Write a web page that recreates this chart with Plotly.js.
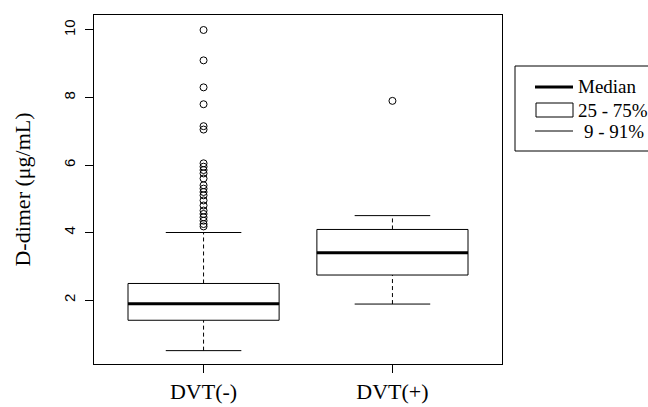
<!DOCTYPE html>
<html>
<head>
<meta charset="utf-8">
<script src="https://cdn.plot.ly/plotly-3.0.1.min.js"></script>
<style>html,body{margin:0;padding:0;background:#fff;}#chart{width:648px;height:407px;}</style>
</head>
<body>
<div id="chart"></div>
<script>
// ---- data ----
var categories = ["DVT(-)", "DVT(+)"];
var positions = [1, 2];
var q1 = [1.40, 2.74];
var medians = [1.89, 3.40];
var q3 = [2.49, 4.09];
var whiskerLow = [0.50, 1.88];
var whiskerHigh = [4.00, 4.50];
var outliersNeg = [4.18, 4.25, 4.35, 4.45, 4.55, 4.65, 4.80, 4.95, 5.10, 5.20, 5.30, 5.40, 5.60, 5.75, 5.85, 5.95, 6.05, 7.05, 7.15, 7.80, 8.30, 9.10, 10.00];
var outliersPos = [7.90];
var yTicks = [2, 4, 6, 8, 10];
var legendLabels = ["Median", "25 - 75%", "9 - 91%"];

var halfBox = 0.4, halfCap = 0.2;
var traces = [];
var serif = "Liberation Serif, Times New Roman, serif";
var sans = "Liberation Sans, Arial, sans-serif";

for (var i = 0; i < categories.length; i++) {
  var x = positions[i];
  // dashed whiskers
  traces.push({type: "scatter", mode: "lines", x: [x, x], y: [whiskerLow[i], q1[i]],
    line: {color: "#000", width: 1, dash: "4px,3px"}, hoverinfo: "skip", showlegend: false});
  traces.push({type: "scatter", mode: "lines", x: [x, x], y: [q3[i], whiskerHigh[i]],
    line: {color: "#000", width: 1, dash: "4px,3px"}, hoverinfo: "skip", showlegend: false});
  // caps
  traces.push({type: "scatter", mode: "lines", x: [x - halfCap, x + halfCap], y: [whiskerLow[i], whiskerLow[i]],
    line: {color: "#000", width: 1}, hoverinfo: "skip", showlegend: false});
  traces.push({type: "scatter", mode: "lines", x: [x - halfCap, x + halfCap], y: [whiskerHigh[i], whiskerHigh[i]],
    line: {color: "#000", width: 1}, hoverinfo: "skip", showlegend: false});
  // box
  traces.push({type: "box", x: [x], q1: [q1[i]], median: [medians[i]], q3: [q3[i]],
    lowerfence: [q1[i]], upperfence: [q3[i]], width: 2 * halfBox,
    line: {color: "#000", width: 1}, fillcolor: "#fff", boxpoints: false,
    whiskerwidth: 0, hoverinfo: "skip", showlegend: false});
  // thick median
  traces.push({type: "scatter", mode: "lines", x: [x - halfBox, x + halfBox], y: [medians[i], medians[i]],
    line: {color: "#000", width: 3}, hoverinfo: "skip", showlegend: false});
}
traces.push({type: "scatter", mode: "markers", x: outliersNeg.map(function(){return positions[0];}), y: outliersNeg,
  marker: {symbol: "circle-open", size: 7, color: "#000", line: {width: 1, color: "#000"}}, hoverinfo: "skip", showlegend: false});
traces.push({type: "scatter", mode: "markers", x: outliersPos.map(function(){return positions[1];}), y: outliersPos,
  marker: {symbol: "circle-open", size: 7, color: "#000", line: {width: 1, color: "#000"}}, hoverinfo: "skip", showlegend: false});

var layout = {
  width: 648, height: 407,
  margin: {l: 94, r: 146, t: 15, b: 43},
  paper_bgcolor: "#fff", plot_bgcolor: "#fff",
  showlegend: false,
  xaxis: {range: [0.42, 2.58], tickvals: positions, ticktext: categories,
    showgrid: false, zeroline: false, showline: true, mirror: true, linecolor: "#000", linewidth: 1,
    ticks: "outside", ticklen: 8, tickcolor: "#000",
    tickfont: {family: serif, size: 22, color: "#000"}},
  yaxis: {range: [0.104, 10.444], tickvals: yTicks, ticktext: yTicks.map(String), tickangle: -90,
    showgrid: false, zeroline: false, showline: true, mirror: true, linecolor: "#000", linewidth: 1,
    ticks: "outside", ticklen: 8, tickcolor: "#000", ticklabelstandoff: 4,
    tickfont: {family: sans, size: 15, color: "#000"},
    title: {text: "D-dimer (μg/mL)", font: {family: serif, size: 22, color: "#000"}, standoff: 24}},
  shapes: [
    {type: "path", xref: "paper", yref: "paper",
      path: "M " + ((700 - 94) / 408) + "," + ((364 - 66) / 349) +
            " L " + ((515 - 94) / 408) + "," + ((364 - 66) / 349) +
            " L " + ((515 - 94) / 408) + "," + ((364 - 151) / 349) +
            " L " + ((700 - 94) / 408) + "," + ((364 - 151) / 349),
      line: {color: "#000", width: 1}},
    {type: "line", xref: "paper", yref: "paper", x0: (535 - 94) / 408, x1: (573 - 94) / 408,
      y0: (364 - 87) / 349, y1: (364 - 87) / 349, line: {color: "#000", width: 3}},
    {type: "rect", xref: "paper", yref: "paper", x0: (536 - 94) / 408, x1: (573 - 94) / 408,
      y0: (364 - 117) / 349, y1: (364 - 103) / 349, line: {color: "#000", width: 1}, fillcolor: "#fff"},
    {type: "line", xref: "paper", yref: "paper", x0: (535 - 94) / 408, x1: (573 - 94) / 408,
      y0: (364 - 131) / 349, y1: (364 - 131) / 349, line: {color: "#000", width: 1}}
  ],
  annotations: [
    {xref: "paper", yref: "paper", x: (576 - 94) / 408, y: (364 - 86) / 349, xanchor: "left", yanchor: "middle",
      text: legendLabels[0], showarrow: false, font: {family: serif, size: 19, color: "#000"}},
    {xref: "paper", yref: "paper", x: (576 - 94) / 408, y: (364 - 110) / 349, xanchor: "left", yanchor: "middle",
      text: legendLabels[1], showarrow: false, font: {family: serif, size: 19, color: "#000"}},
    {xref: "paper", yref: "paper", x: (582 - 94) / 408, y: (364 - 131) / 349, xanchor: "left", yanchor: "middle",
      text: legendLabels[2], showarrow: false, font: {family: serif, size: 19, color: "#000"}}
  ]
};

Plotly.newPlot("chart", traces, layout, {staticPlot: true, displayModeBar: false});
</script>
</body>
</html>
